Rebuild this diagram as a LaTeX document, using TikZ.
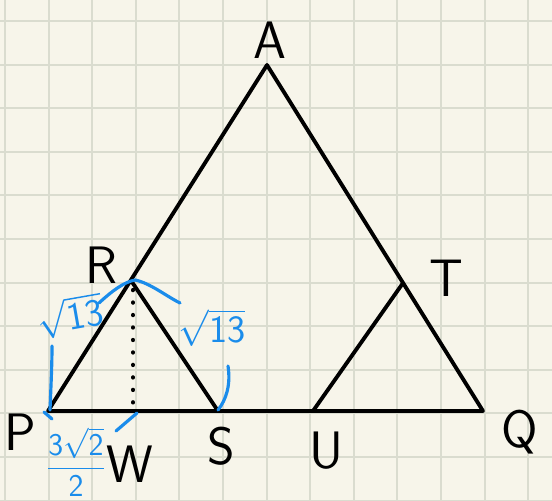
\documentclass[tikz,border=0pt]{standalone}
\usepackage{tikz}
\usepackage{xcolor}
\usetikzlibrary{calc}
\definecolor{paperbg}{HTML}{F7F5EA}
\definecolor{gridgray}{HTML}{DADCCF}
\definecolor{penblue}{HTML}{1A8CEB}
\tikzset{
  gridline/.style={draw=gridgray, line width=1.1pt},
  edge/.style={draw=black, line width=2.2pt, line join=round, line cap=round},
  vlabel/.style={font=\fontsize{30}{34}\selectfont\sffamily, inner sep=0pt},
  bluearc/.style={draw=penblue, line width=1.8pt, line cap=round},
  bluelabel/.style={text=penblue, font=\fontsize{22}{26}\selectfont\sffamily, inner sep=0pt}
}

\begin{document}
\begin{tikzpicture}[x=0.02cm, y=-0.02cm]
        \fill[paperbg] (0,0) rectangle (552,501);
        \useasboundingbox (0,0) rectangle (552,501);
        % grid paper
        \foreach \i in {0,...,12}
          \draw[gridline] ({5+43.6*\i},0) -- ({5+43.6*\i},501);
        \foreach \j in {0,...,11}
          \draw[gridline] (0,{21+43.6*\j}) -- (552,{21+43.6*\j});
        % vertices
        \coordinate (a) at (267,65);
        \coordinate (p) at (48,411);
        \coordinate (q) at (483,411);
        \coordinate (r) at (132,282);
        \coordinate (s) at (218,411);
        \coordinate (w) at (133,411);
        \coordinate (u) at (313,411);
        \coordinate (t) at (403,283);
        % triangles
        \draw[edge] (p) -- (a) -- (q) -- cycle;
        \draw[edge] (r) -- (s);
        \draw[edge] (u) -- (t);
        \draw[line width=2.4pt, dash pattern=on 0.1pt off 7pt, line cap=round] ($(r)+(1,8)$) -- (w);
        % labels
        \node[vlabel] (la) at (270,40) {A};
        \node[vlabel] (lr) at (101,265) {R};
        \node[vlabel] (lt) at (446,278) {T};
        \node[vlabel] (lp) at (20,432) {P};
        \node[vlabel] (lw) at (130,464) {W};
        \node[vlabel] (ls) at (221,446) {S};
        \node[vlabel] (lu) at (326,451) {U};
        \node[vlabel] (lq) at (520,432) {Q};
        % blue notes
        \node[bluelabel, rotate=10] (prlen) at (70,316) {$\sqrt{\textsf{13}}$};
        \node[bluelabel] (rslen) at (212,328) {$\sqrt{\textsf{13}}$};
        \node[bluelabel, font=\fontsize{18}{22}\selectfont\sffamily] (pwlen) at (76,462) {$\displaystyle\frac{\textsf{3}\sqrt{\textsf{2}}}{\textsf{2}}$};
        \draw[bluearc] (50,410) .. controls (51,385) and (52,365) .. (52,346);
        \draw[bluearc] (99,303) .. controls (112,291) and (124,282) .. (135,280) .. controls (150,283) and (166,296) .. (180,303);
        \draw[bluearc] (228,366) .. controls (231,385) and (226,400) .. (218,410);
        \draw[bluearc] (44,412) -- (52,419);
        \draw[bluearc] (116,431) -- (137,413);
      \end{tikzpicture}
\end{document}
